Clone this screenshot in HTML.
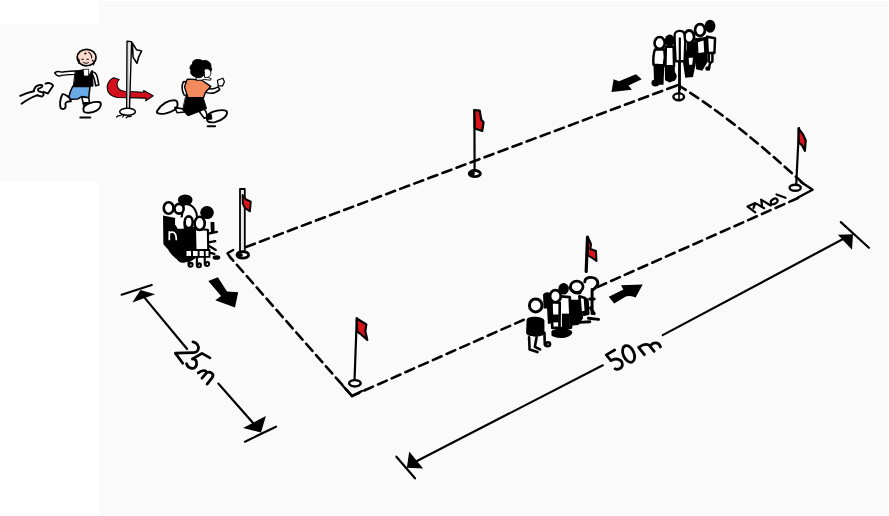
<!DOCTYPE html>
<html><head><meta charset="utf-8"><style>
html,body{margin:0;padding:0;background:#fff;width:889px;height:516px;overflow:hidden;font-family:"Liberation Sans",sans-serif;}
svg{display:block;position:absolute;left:0;top:0;}
</style></head><body>
<svg width="889" height="516" viewBox="0 0 889 516">
<!-- backgrounds -->
<rect x="0" y="0" width="889" height="516" fill="#fff"/>
<rect x="98.5" y="1" width="789.5" height="514" fill="#fafafa"/>
<rect x="0" y="24" width="260" height="157.5" fill="#fafafa"/>

<!-- inset -->
<!-- hand -->
<g transform="translate(10,40) scale(0.1355)" fill="none" stroke="#000" stroke-width="14" stroke-linecap="round" stroke-linejoin="round">
  <path d="M75,412 C110,395 140,385 175,378"/>
  <path d="M85,470 C120,445 160,420 200,408"/>
  <path d="M175,378 C180,350 195,330 230,332 C245,335 240,350 220,355 C200,358 205,375 215,380 L235,385 C250,390 255,410 235,418 L200,408"/>
  <path d="M262,322 C285,312 315,320 318,338 L280,395 L248,382"/>
</g>
<!-- runner 1 -->
<g transform="translate(50,40) scale(0.15504)" stroke="#000" stroke-linejoin="round" stroke-linecap="round">
  <path d="M30,212 C45,200 60,202 75,207 C110,203 140,198 172,200 L170,222 C140,222 105,224 75,228 C58,236 40,228 30,212 Z" fill="#fff" stroke-width="9"/>
  <path d="M268,205 C285,205 300,215 305,240 L315,290 L295,295 L285,250 Z" fill="#fff" stroke-width="10"/>
  <path d="M165,200 L215,192 L228,235 L250,230 L272,195 L278,298 L152,302 Z" fill="#000" stroke-width="6"/>
  <path d="M148,298 L258,300 L250,372 L205,365 L180,380 L118,382 C125,350 135,320 148,298 Z" fill="#6aaae8" stroke-width="10"/>
  <path d="M125,372 C110,360 90,345 80,350 C65,380 60,420 70,440 C85,450 105,445 100,420 C95,400 115,395 135,395 Z" fill="#fff" stroke-width="12"/>
  <path d="M205,368 L250,372 L255,405 L215,410 Z" fill="#fff" stroke-width="10"/>
  <path d="M215,405 L255,402 L258,440 L220,442 Z" fill="#000" stroke-width="6"/>
  <path d="M215,440 C225,410 285,395 318,400 C335,405 330,440 300,455 C270,470 230,475 218,462 Z" fill="#fff" stroke-width="12"/>
  <path d="M195,500 L260,500" stroke-width="12"/>
  <ellipse cx="236" cy="113" rx="61" ry="53" fill="#f9dacd" stroke-width="11"/>
  <circle cx="228" cy="87" r="7" fill="#000" stroke="none"/>
  <path d="M250,80 C265,90 270,100 268,115 M272,130 C285,135 290,150 280,160 M180,120 C190,125 192,140 185,150 M205,124 L215,124 M238,124 L248,124" fill="none" stroke-width="7"/>
  <path d="M214,144 C222,152 240,152 248,146 M195,150 C200,162 215,168 230,168" fill="none" stroke-width="6"/>
  <path d="M215,190 L250,188 L248,232 L220,232 Z" fill="#fff" stroke-width="5"/>
</g>
<!-- pole + red arrow -->
<g transform="translate(100,35) scale(0.17443)" stroke="#000" stroke-linejoin="round" stroke-linecap="round">
  <path d="M78,245 C30,265 20,345 100,358 L265,362 L262,378 L305,348 L250,318 L252,328 L140,322 C100,318 85,285 110,255 Z" fill="#d2101c" stroke-width="6"/>
  <path d="M155,36 L181,38 L169,428 L153,428 Z" fill="#fff" stroke-width="8"/>
  <path d="M166,42 L162,420" fill="none" stroke-width="3.5" stroke="#aaa"/>
  <path d="M185,45 L210,85 L238,92 L222,125 L212,162 L190,128 Z" fill="#fff" stroke-width="9"/>
  <ellipse cx="158" cy="440" rx="45" ry="20" fill="#fff" stroke-width="9"/>
  <path d="M95,470 C110,455 120,470 125,455 M130,470 L140,455 M150,475 C160,460 170,475 180,465" fill="none" stroke-width="7"/>
</g>
<!-- runner 2 -->
<g transform="translate(150,50) scale(0.15504)" stroke="#000" stroke-linejoin="round" stroke-linecap="round">
  <path d="M45,395 C70,350 120,320 165,325 C185,335 180,375 160,385 C120,410 70,420 45,405 Z" fill="#fff" stroke-width="12"/>
  <path d="M160,370 L215,380 L225,400 L175,405 Z" fill="#fff" stroke-width="10"/>
  <path d="M330,360 L360,395 L372,432 L350,440 L320,400 Z" fill="#fff" stroke-width="10"/>
  <path d="M370,420 C400,390 470,380 495,395 C505,420 470,455 420,465 C390,470 365,465 368,445 Z" fill="#fff" stroke-width="12"/>
  <path d="M365,420 L395,415 L400,445 L370,450 Z" fill="#000" stroke-width="5"/>
  <path d="M372,492 L420,492" stroke-width="12"/>
  <path d="M232,300 L342,305 L365,378 L245,425 L212,388 Z" fill="#000" stroke-width="6"/>
  <path d="M215,205 C235,200 250,215 248,240 L240,292 L220,290 C205,260 205,225 215,205 Z" fill="#fff" stroke-width="10"/>
  <path d="M360,240 C380,255 400,260 440,238 L450,255 C420,280 385,285 350,270 Z" fill="#fff" stroke-width="10"/>
  <path d="M435,195 L470,182 L480,205 L468,232 L440,232 Z" fill="#fff" stroke-width="8"/>
  <path d="M240,188 L330,192 L392,235 L358,272 L345,308 L245,306 L222,238 Z" fill="#f28a5e" stroke-width="9"/>
  <path d="M300,175 L345,165 L395,185 L390,195 L350,190 L330,195 L300,195 Z" fill="#fff" stroke-width="6"/>
  <path d="M275,90 C265,60 320,55 340,70 C365,60 400,80 392,110 C405,125 390,150 375,150 L350,150 C345,175 320,185 300,175 C270,170 255,150 265,130 C250,115 262,95 275,90 Z" fill="#000" stroke-width="6"/>
  <path d="M350,125 C370,115 390,125 392,145 C395,165 380,180 355,178 Z" fill="#fff" stroke-width="6"/>
</g>

<!-- field outline -->
<g fill="none" stroke="#000" stroke-width="2.6" stroke-dasharray="9.5 5.5" stroke-linecap="round">
  <path d="M246,247 Q455,168 678,85"/>
  <path d="M678,85 Q735,120 807,187"/>
  <path d="M798,198 L352,396"/>
  <path d="M352,396 L230,257"/>
</g>
<!-- corner brackets -->
<g fill="none" stroke="#000" stroke-width="2.4" stroke-linecap="round" stroke-linejoin="round">
  <path d="M233.2,250 L227.5,253.3 L230.8,258.2"/>
  <path d="M801,182 L812.6,189.7 L798,197.5"/>
  <path d="M343,386 L352,396 L362,391"/>
</g>

<!-- flags -->
<g stroke="#000" stroke-linejoin="round" stroke-linecap="round">
  <!-- left flag (white pole) -->
  <rect x="240" y="189" width="4.8" height="64" fill="#e8e8e8" stroke-width="1.8"/>
  <path d="M242.6,195 L246,199.3 L250.8,201.6 L249.9,211.4 L245,208 L242.8,203.5 Z" fill="#d9141c" stroke-width="1.9"/>
  <ellipse cx="242.8" cy="254.9" rx="5.8" ry="3.3" fill="#fff" stroke-width="2.8"/>
  <ellipse cx="240.3" cy="254.9" rx="2.6" ry="2" fill="#000" stroke="none"/>
  <!-- top middle flag -->
  <path d="M474.4,110 L474.6,172" stroke-width="2.2" fill="none"/>
  <path d="M474.4,110 L479.7,110.7 L481.3,119.8 L483.6,122.2 L482.2,131 L474.8,128.5 Z" fill="#d9141c" stroke-width="2.2"/>
  <ellipse cx="474.8" cy="173.6" rx="5.6" ry="3.1" fill="#fff" stroke-width="2.8"/>
  <ellipse cx="472.3" cy="173.6" rx="2.6" ry="2" fill="#000" stroke="none"/>
  <!-- right flag -->
  <path d="M799,128 L796.2,185" stroke-width="2.2" fill="none"/>
  <path d="M798.5,128.3 L803,134.5 L805.7,140.3 L804.9,150.8 L802,145.2 L798.8,142.8 Z" fill="#d9141c" stroke-width="2.2"/>
  <ellipse cx="795.2" cy="187.8" rx="5.6" ry="3" fill="#fff" stroke-width="2.4"/>
  <!-- bottom flag -->
  <path d="M356.8,318 L354.5,381" stroke-width="2.2" fill="none"/>
  <path d="M356.8,318.5 L366.3,324.5 L365.3,331.3 L367.3,340 L360,333.5 L357.2,331.5 Z" fill="#d9141c" stroke-width="2.2"/>
  <ellipse cx="354.9" cy="383.3" rx="5.8" ry="3.2" fill="#fff" stroke-width="2.4"/>
  <!-- top right flag pole -->
  <path d="M679.2,36 L679.2,93" stroke-width="2.2" fill="none"/>
  <ellipse cx="678.7" cy="96.8" rx="5.3" ry="3.4" fill="#fff" stroke-width="2.4"/>
  <path d="M679,94 L679,100" stroke-width="1.6"/>
  <!-- middle flag -->
  <path d="M587.5,237 L586.2,271.5" stroke-width="3.2" fill="none"/>
  <path d="M588,237.5 L591,244 L590.5,249 L596,251 L596.5,261 L591.5,257.5 L588,255.5 Z" fill="#d9141c" stroke-width="2"/>
</g>

<!-- crowd left -->
<g transform="translate(155,185) scale(0.17455)" stroke-linejoin="round" stroke-linecap="round">
  <!-- black body mass -->
  <path d="M46,175 L125,190 L180,240 L232,255 L232,420 L200,440 L150,440 C120,425 90,400 75,370 L48,340 Z" fill="#000"/>
  <!-- head C black + white face -->
  <ellipse cx="173" cy="86" rx="42" ry="32" fill="#000"/>
  <path d="M165,112 C215,100 245,150 240,200 L225,245 L170,250 L150,200 Z" fill="#fff" stroke="#000" stroke-width="12"/>
  <path d="M115,190 L160,185 L165,250 L130,250 L115,225 Z" fill="#fff"/>
  <path d="M82,268 L82,312 M82,276 C100,262 122,270 122,312" fill="none" stroke="#fff" stroke-width="10"/>
  <!-- heads A B -->
  <ellipse cx="78" cy="132" rx="28" ry="33" fill="#fff" stroke="#000" stroke-width="15"/>
  <ellipse cx="138" cy="136" rx="26" ry="28" fill="#fff" stroke="#000" stroke-width="15"/>
  <!-- head D black -->
  <ellipse cx="298" cy="158" rx="39" ry="37" fill="#000"/>
  <!-- right arm pieces -->
  <path d="M318,212 L340,212 L342,275 L320,275 Z" fill="#000"/>
  <path d="M306,278 L355,268 M300,330 L345,322 M310,350 L348,372 M300,385 L340,395" fill="none" stroke="#000" stroke-width="13"/>
  <ellipse cx="352" cy="415" rx="22" ry="13" fill="#000"/>
  <!-- white body F -->
  <path d="M229,252 L303,256 L305,372 L232,372 Z" fill="#fff" stroke="#000" stroke-width="12"/>
  <!-- heads E F -->
  <ellipse cx="193" cy="213" rx="23" ry="33" fill="#fff" stroke="#000" stroke-width="15"/>
  <ellipse cx="256" cy="220" rx="29" ry="38" fill="#fff" stroke="#000" stroke-width="15"/>
  <!-- legs row -->
  <path d="M175,372 L312,372 L312,412 L175,412 Z" fill="#fff" stroke="#000" stroke-width="11"/>
  <path d="M212,372 L212,412 M250,372 L250,412 M285,372 L285,412" fill="none" stroke="#000" stroke-width="11"/>
  <path d="M192,412 L192,455 C192,472 215,472 215,457 C215,442 197,442 197,457" fill="none" stroke="#000" stroke-width="12"/>
  <path d="M240,412 L240,460 C240,475 263,475 263,460 C263,445 245,445 245,460" fill="none" stroke="#000" stroke-width="12"/>
  <path d="M285,412 L285,450 C285,468 310,468 310,452 C310,438 290,438 290,452" fill="none" stroke="#000" stroke-width="12"/>
  <path d="M125,395 C130,425 150,440 172,432" fill="none" stroke="#000" stroke-width="22"/>
</g>

<!-- crowd top right -->
<g transform="translate(648,15) scale(0.15517)" stroke-linejoin="round" stroke-linecap="round">
  <!-- person F -->
  <ellipse cx="400" cy="72" rx="34" ry="42" fill="#000"/>
  <path d="M380,140 L432,150 L428,245 L385,245 Z" fill="#fff" stroke="#000" stroke-width="16"/>
  <path d="M392,245 L392,300 M415,245 L415,300 L400,310 L392,350" fill="none" stroke="#000" stroke-width="16"/>
  <ellipse cx="385" cy="345" rx="16" ry="14" fill="#000"/>
  <!-- person E -->
  <path d="M300,150 L380,140 L385,300 L350,360 L310,350 L300,250 Z" fill="#000"/>
  <ellipse cx="335" cy="97" rx="32" ry="38" fill="#fff" stroke="#000" stroke-width="18"/>
  <path d="M322,175 L358,165 L362,240 L325,245 Z" fill="#fff"/>
  <!-- person D -->
  <path d="M225,175 L305,170 L310,300 L290,400 L240,405 L225,300 Z" fill="#000"/>
  <ellipse cx="265" cy="140" rx="32" ry="40" fill="#fff" stroke="#000" stroke-width="18"/>
  <path d="M232,175 L250,178 L248,230 L232,225 Z" fill="#fff"/>
  <path d="M262,275 L290,275 L285,320 L265,320 Z" fill="#fff"/>
  <!-- person C -->
  <path d="M172,130 C170,95 232,92 235,125 L240,175 L236,298 L178,298 L172,175 Z" fill="#fff" stroke="#000" stroke-width="15"/>
  <!-- person B -->
  <ellipse cx="140" cy="165" rx="32" ry="40" fill="#000"/>
  <path d="M115,205 L165,205 L168,330 L112,330 Z" fill="#fff" stroke="#000" stroke-width="16"/>
  <path d="M108,330 L172,330 L175,420 L140,435 L110,420 Z" fill="#000"/>
  <ellipse cx="160" cy="395" rx="25" ry="30" fill="#000"/>
  <!-- person A -->
  <ellipse cx="75" cy="180" rx="33" ry="38" fill="#fff" stroke="#000" stroke-width="17"/>
  <path d="M45,222 L105,222 C112,260 108,300 102,325 L35,320 C32,280 35,250 45,222 Z" fill="#fff" stroke="#000" stroke-width="16"/>
  <path d="M35,320 L105,322 L100,450 L40,450 Z" fill="#000"/>
  <ellipse cx="48" cy="438" rx="26" ry="22" fill="#000"/>
  <!-- pole -->
  <path d="M205,150 L205,480" stroke="#000" stroke-width="14" fill="none"/>
</g>

<!-- crowd middle -->
<path d="M525,319.2 L591,289.9" stroke="#fafafa" stroke-width="5" fill="none"/>
<g transform="translate(520,270) scale(0.17455)" stroke-linejoin="round" stroke-linecap="round">
  <!-- right person -->
  <path d="M371,68 C368,35 442,30 446,75 C446,100 421,108 413,118 L413,250" fill="none" stroke="#000" stroke-width="17"/>
  <path d="M400,166 L425,166 M404,216 L425,250 M392,276 L450,283 M340,300 L400,296" fill="none" stroke="#000" stroke-width="17"/>
  <path d="M365,165 L385,170 L390,250 L365,255" fill="none" stroke="#000" stroke-width="17"/>
  <!-- person 2 -->
  <path d="M285,170 L345,170 L362,275 L335,315 L285,320 Z" fill="#000"/>
  <path d="M340,150 L372,160 L378,240 L348,245 Z" fill="#fff" stroke="#000" stroke-width="15"/>
  <ellipse cx="325" cy="96" rx="36" ry="32" fill="#fff" stroke="#000" stroke-width="16"/>
  <path d="M285,100 C292,125 320,140 345,130" fill="none" stroke="#000" stroke-width="15"/>
  <!-- person 3 -->
  <ellipse cx="250" cy="108" rx="30" ry="33" fill="#000"/>
  <path d="M215,150 L285,155 L292,330 L225,335 L212,240 Z" fill="#fff" stroke="#000" stroke-width="16"/>
  <path d="M240,250 L285,250 L285,335 L240,335 Z" fill="#000"/>
  <!-- person 4 -->
  <path d="M132,140 C145,120 180,125 178,145 L182,305 L160,310 L155,220 L135,220 Z" fill="#000"/>
  <ellipse cx="203" cy="150" rx="31" ry="35" fill="#fff" stroke="#000" stroke-width="16"/>
  <path d="M180,185 L228,188 L226,330 L185,332 Z" fill="#fff" stroke="#000" stroke-width="15"/>
  <path d="M185,255 L222,255 L222,300 L185,300 Z" fill="#000"/>
  <!-- feet blob -->
  <path d="M180,350 C200,330 285,330 300,355 C295,395 205,398 180,375 Z" fill="#000"/>
  <path d="M140,360 L142,425 C145,440 172,440 172,425 C172,410 150,410 150,425" fill="none" stroke="#000" stroke-width="15"/>
  <!-- person 5 -->
  <ellipse cx="90" cy="203" rx="36" ry="37" fill="#fff" stroke="#000" stroke-width="17"/>
  <path d="M38,285 C38,262 135,262 140,290 L140,360 C140,390 38,390 35,360 Z" fill="#000"/>
  <path d="M52,385 L55,455 L100,470 M95,385 L85,440 L115,455" fill="none" stroke="#000" stroke-width="15"/>
</g>

<!-- dimension lines -->
<g stroke="#000" stroke-width="2.2" fill="none" stroke-linecap="round">
  <path d="M121.6,294.7 L151.7,285"/>
  <path d="M144.9,298.1 L187.1,349"/>
  <path d="M218.3,383.6 L253.3,423.3"/>
  <path d="M245,441.7 L276,426.7"/>
  <path d="M396.4,456.7 L415,478.3"/>
  <path d="M415,462 L602.8,365.3"/>
  <path d="M662.7,335.1 L845,238"/>
  <path d="M840.8,222.1 L868.9,247.8"/>
</g>
<g fill="#000">
  <path d="M140.5,289.9 L155.1,294.2 L132.3,302.5 Z"/>
  <path d="M261,432.5 L265.9,416 L243.1,428.1 Z"/>
  <path d="M409.2,451.5 L406.9,467.8 L423.1,468.4 Z"/>
  <path d="M837.9,234.7 L853,234.2 L852,249.7 Z"/>
</g>

<!-- 25m text -->
<g transform="translate(170,335) scale(0.10661)" fill="none" stroke="#000" stroke-width="26" stroke-linecap="round" stroke-linejoin="round">
  <path d="M215,65 C250,70 275,100 265,135 C258,155 240,165 225,165 L50,170 L120,265"/>
  <path d="M375,215 L300,172 L210,225 C250,220 260,270 240,300 C220,325 170,315 155,270"/>
  <path d="M265,355 C300,330 335,325 345,352 L300,405 M345,352 C380,340 420,365 395,400 L348,460"/>
</g>
<!-- 50m text -->
<g transform="translate(590,320) scale(0.11628)" fill="none" stroke="#000" stroke-width="24" stroke-linecap="round" stroke-linejoin="round">
  <path d="M212,258 L140,300 L180,350 C225,320 280,340 278,385 C275,420 235,430 215,420"/>
  <ellipse cx="332" cy="292" rx="46" ry="76" transform="rotate(-24 332 292)"/>
  <path d="M418,235 L468,298 M425,232 C465,200 505,205 515,225 L552,270 M518,222 C545,190 590,185 606,232"/>
</g>
<!-- MHon squiggle -->
<g fill="none" stroke="#000" stroke-width="2.2" stroke-linecap="round" stroke-linejoin="round">
  <path d="M747.6,206.6 L755.3,212.4 M747.6,206.6 L755.3,203.1 L753.5,208 M755.3,203.1 L764.2,208.2 M761.1,199.7 L770.8,205.5 M761.3,200 L762,206"/>
  <ellipse cx="774.2" cy="201.4" rx="3.6" ry="2.4" transform="rotate(-30 774.2 201.4)"/>
  <path d="M776.5,194.5 L785.5,197.8"/>
</g>

<!-- big arrows -->
<g fill="#000">
  <path d="M208.3,281 L217.9,277.3 L227,291.6 L238.2,292.2 L235,307.6 L215.3,300.2 L221.1,295.9 Z"/>
  <path d="M613.6,79.2 L619,81.3 L636,74.2 L641.7,79.2 L628.5,85.4 L631.9,89.8 L611.5,92.1 Z"/>
  <path d="M608.8,296.7 L623.4,289.6 L621,285.2 L642.7,284.5 L635.6,297.4 Q630,295.5 625.8,296.4 L614.2,303.5 Z"/>
</g>

</svg>
</body></html>
